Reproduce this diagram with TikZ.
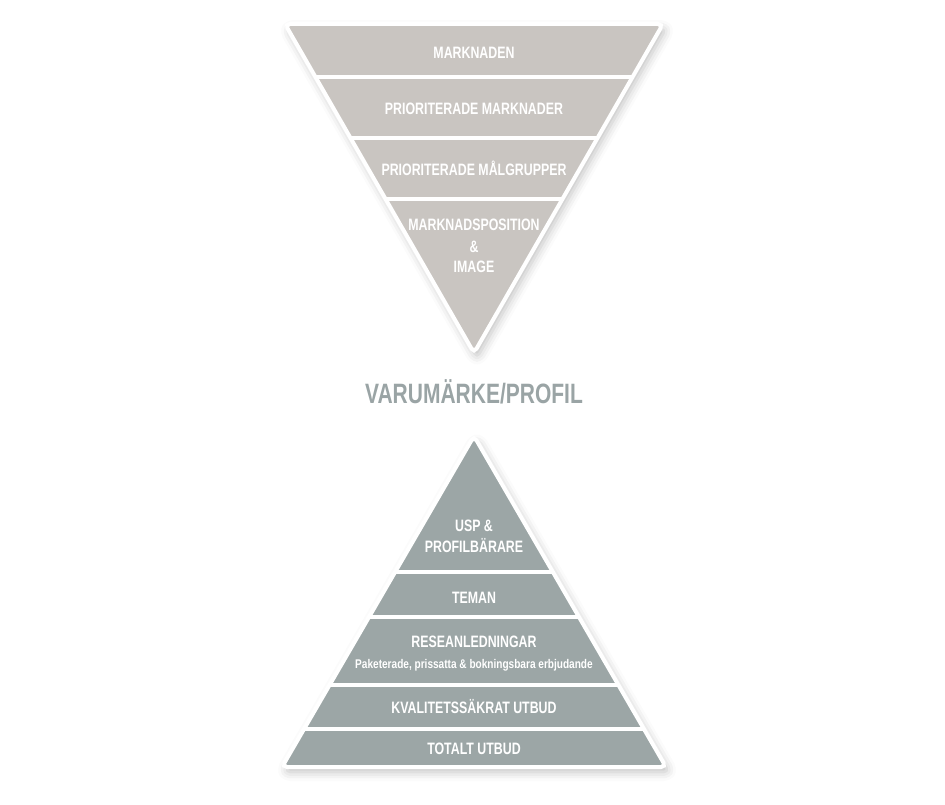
\documentclass[tikz,border=0pt]{standalone}
\usepackage{fontspec}
\setmainfont[FakeStretch=0.75]{Liberation Sans}
\newfontfamily\subfont[FakeStretch=0.80]{Liberation Sans}
\usetikzlibrary{shadows.blur}
\definecolor{topgray}{HTML}{C9C5C1}
\definecolor{botgray}{HTML}{9CA6A6}
\definecolor{titlegray}{HTML}{9AA4A5}
\tikzset{
  band/.style={text=white, font=\bfseries\fontsize{16.5}{21}\selectfont, anchor=base, align=center},
  subband/.style={text=white, font=\subfont\bfseries\fontsize{12.6}{15}\selectfont, anchor=base},
  divider/.style={draw=white, line width=4pt},
  rim/.style={draw=white, line width=4pt, rounded corners=5pt},
  shade/.style={blur shadow={shadow xshift=3pt, shadow yshift=-5pt, shadow blur radius=9pt, shadow opacity=25}}
}
\begin{document}
\begin{tikzpicture}[x=1pt, y=-1pt]
\useasboundingbox (0,0) rectangle (945,805);
% top inverted triangle
\def\toptri{(285,24) -- (663,24) -- (474,353) -- cycle}
\fill[topgray, rounded corners=5pt, shade] \toptri;
\begin{scope}
  \clip \toptri;
  \draw[divider] (250,77) -- (700,77);
  \draw[divider] (250,138) -- (700,138);
  \draw[divider] (250,199) -- (700,199);
\end{scope}
\draw[rim] \toptri;
% bottom pyramid
\def\bottri{(282,767) -- (666,767) -- (474,436) -- cycle}
\fill[botgray, rounded corners=5pt, shade] \bottri;
\begin{scope}
  \clip \bottri;
  \draw[divider] (250,572) -- (700,572);
  \draw[divider] (250,617) -- (700,617);
  \draw[divider] (250,685) -- (700,685);
  \draw[divider] (250,729) -- (700,729);
\end{scope}
\draw[rim] \bottri;
% texts top
\node[band] (m1) at (474,59) {MARKNADEN};
\node[band] (m2) at (474,115) {PRIORITERADE MARKNADER};
\node[band] (m3) at (474,176) {PRIORITERADE MÅLGRUPPER};
\node[band] (m4a) at (474,230) {MARKNADSPOSITION};
\node[band] (m4b) at (474,252) {\&};
\node[band] (m4c) at (474,272) {IMAGE};
% middle title
\node[anchor=base, text=titlegray, font=\bfseries\fontsize{28}{30}\selectfont] (title) at (474,403) {VARUMÄRKE/PROFIL};
% texts bottom
\node[band] (p1a) at (474,531) {USP \&};
\node[band] (p1b) at (474,552) {PROFILBÄRARE};
\node[band] (p2) at (474,603) {TEMAN};
\node[band] (p3) at (474,647) {RESEANLEDNINGAR};
\node[subband] (p3s) at (474,668) {Paketerade, prissatta \& bokningsbara erbjudande};
\node[band] (p4) at (474,713) {KVALITETSSÄKRAT UTBUD};
\node[band] (p5) at (474,754) {TOTALT UTBUD};
\end{tikzpicture}
\end{document}
